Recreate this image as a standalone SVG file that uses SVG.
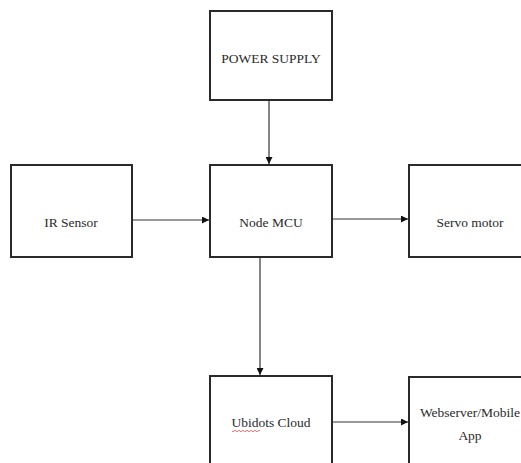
<svg xmlns="http://www.w3.org/2000/svg" width="521" height="463" viewBox="0 0 521 463">
<style>
.box{fill:#fff;stroke:#2a2a2a;stroke-width:2}
.lbl{font-family:"Liberation Serif","Times New Roman",serif;font-size:13.5px;fill:#2a2a2a;text-anchor:middle}
.con{stroke:#333;stroke-width:1.2;fill:none;marker-end:url(#ah)}
</style>
<defs>
<marker id="ah" viewBox="0 0 10 10" refX="10" refY="5" markerWidth="7" markerHeight="7" markerUnits="userSpaceOnUse" orient="auto">
<path d="M0,0 L10,5 L0,10 Z" fill="#111"/>
</marker>
</defs>
<rect width="521" height="463" fill="#fff"/>
<g id="power"><rect class="box" x="210" y="11" width="122" height="89"/><text class="lbl" x="271" y="63">POWER SUPPLY</text></g>
<g id="ir"><rect class="box" x="11" y="165" width="121" height="92"/><text class="lbl" x="71" y="227">IR Sensor</text></g>
<g id="mcu"><rect class="box" x="210" y="165" width="122" height="92"/><text class="lbl" x="271" y="227">Node MCU</text></g>
<g id="servo"><rect class="box" x="409" y="165" width="125" height="92"/><text class="lbl" x="470" y="227">Servo motor</text></g>
<g id="ubidots"><rect class="box" x="210" y="376" width="122" height="100"/><text class="lbl" x="271" y="427">Ubidots Cloud</text>
<path d="M232,431 q1,1.5 2,0 t2,0 t2,0 t2,0 t2,0 t2,0 t2,0 t2,0 t2,0 t2,0 t2,0 t2,0 t2,0 t2,0" fill="none" stroke="#e05050" stroke-width="0.8"/></g>
<g id="web"><rect class="box" x="409" y="377" width="125" height="100"/><text class="lbl" x="470" y="417">Webserver/Mobile</text><text class="lbl" x="470" y="440">App</text></g>
<g id="connectors">
<line class="con" x1="269" y1="101" x2="269" y2="164"/>
<line class="con" x1="133" y1="220" x2="209" y2="220"/>
<line class="con" x1="333" y1="219" x2="408" y2="219"/>
<line class="con" x1="260" y1="258" x2="260" y2="375"/>
<line class="con" x1="333" y1="422" x2="408" y2="422"/>
</g>
</svg>
